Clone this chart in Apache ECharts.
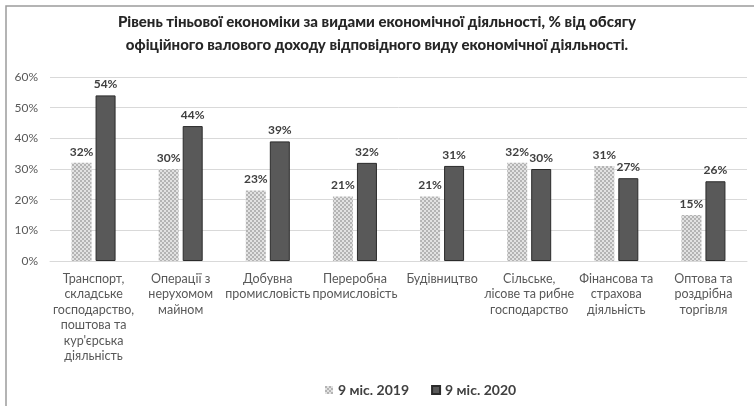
<!DOCTYPE html>
<html>
<head>
<meta charset="utf-8">
<script src="https://cdn.jsdelivr.net/npm/echarts@6/dist/echarts.min.js"></script>
<style>
  html, body { margin: 0; padding: 0; background: #fff; }
  #chart { width: 754px; height: 406px; }
</style>
</head>
<body>
<div id="chart"></div>
<script>
// Shadow economy level by type of activity, % of official gross income
const categories = [
  "Транспорт,\nскладське\nгосподарство,\nпоштова та\nкур'єрська\nдіяльність",
  "Операції з\nнерухомом\nмайном",
  "Добувна\nпромисловість",
  "Переробна\nпромисловість",
  "Будівництво",
  "Сільське,\nлісове та рибне\nгосподарство",
  "Фінансова та\nстрахова\nдіяльність",
  "Оптова та\nроздрібна\nторгівля"
];
const values2019 = [32, 30, 23, 21, 21, 32, 31, 15];
const values2020 = [54, 44, 39, 32, 31, 30, 27, 26];
const seriesNames = ["9 міс. 2019", "9 міс. 2020"];
const yTicks = [0, 10, 20, 30, 40, 50, 60];

// Fine checkered fill for the 2019 bars
function checkerPattern() {
  const c = document.createElement('canvas');
  c.width = 4; c.height = 4;
  const g = c.getContext('2d');
  g.fillStyle = '#e2e2e2';
  g.fillRect(0, 0, 4, 4);
  g.fillStyle = '#b4b4b4';
  g.fillRect(0, 0, 2, 2);
  g.fillRect(2, 2, 2, 2);
  return { image: c, repeat: 'repeat' };
}

const FONT = 'Lato, "Open Sans", sans-serif';
const chart = echarts.init(document.getElementById('chart'), null, { renderer: 'canvas' });

const labelStyle = {
  show: true,
  position: 'top',
  distance: 5,
  formatter: p => p.value + '%',
  color: '#404040',
  fontFamily: FONT,
  fontWeight: 'bold',
  fontSize: 12
};

chart.setOption({
  backgroundColor: '#ffffff',
  animation: false,
  title: {
    text: 'Рівень тіньової економіки за видами економічної діяльності, % від обсягу\nофіційного валового доходу відповідного виду економічної діяльності.',
    left: 'center',
    top: 6,
    textStyle: {
      fontFamily: FONT,
      fontWeight: 900,
      fontSize: 15,
      lineHeight: 23,
      color: '#262626'
    }
  },
  graphic: [{
    type: 'rect',
    silent: true,
    shape: { x: 6, y: 6, width: 800, height: 500 },
    style: { fill: 'none', stroke: '#9c9c9c', lineWidth: 1.5 }
  }],
  legend: {
    data: seriesNames,
    top: 378,
    left: 320,
    itemWidth: 8,
    itemHeight: 8,
    itemGap: 22,
    icon: 'rect',
    textStyle: {
      fontFamily: FONT,
      fontWeight: 'bold',
      fontSize: 14,
      color: '#404040'
    }
  },
  grid: { left: 50, right: 7, top: 77, bottom: 145, containLabel: false },
  xAxis: {
    type: 'category',
    data: categories,
    axisLine: { show: true, lineStyle: { color: '#d9d9d9', width: 1 } },
    axisTick: { show: false },
    axisLabel: {
      interval: 0,
      margin: 10,
      fontFamily: FONT,
      fontSize: 12.5,
      lineHeight: 15.5,
      color: '#595959',
      align: 'center'
    }
  },
  yAxis: {
    type: 'value',
    min: yTicks[0],
    max: yTicks[yTicks.length - 1],
    interval: yTicks[1] - yTicks[0],
    axisLine: { show: false },
    axisTick: { show: false },
    splitLine: { lineStyle: { color: '#d9d9d9', width: 1 } },
    axisLabel: {
      margin: 12,
      formatter: v => v + '%',
      fontFamily: FONT,
      fontSize: 12,
      color: '#595959'
    }
  },
  series: [
    {
      name: seriesNames[0],
      type: 'bar',
      data: values2019,
      barWidth: 20,
      barGap: '20%',
      itemStyle: { color: checkerPattern() },
      label: labelStyle
    },
    {
      name: seriesNames[1],
      type: 'bar',
      data: values2020,
      barWidth: 20,
      itemStyle: { color: '#595959', borderColor: '#2b2b2b', borderWidth: 1 },
      label: labelStyle
    }
  ]
});
</script>
</body>
</html>
